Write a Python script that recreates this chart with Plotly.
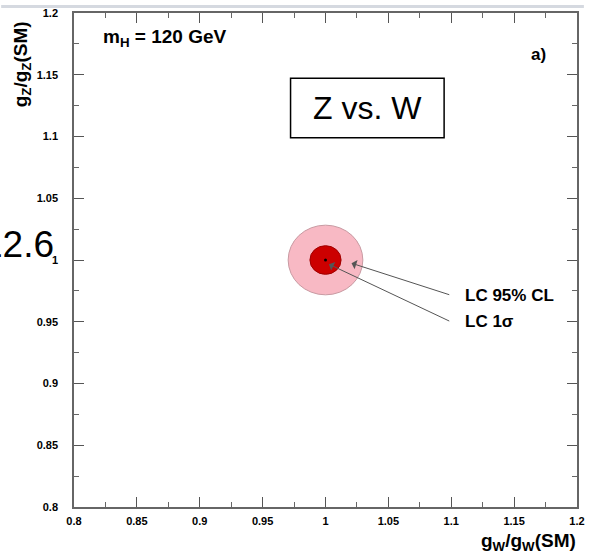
import plotly.graph_objects as go

# ---- data ----
center_x = [1.0]
center_y = [1.0]
radius_95_x = [0.0297]
radius_95_y = [0.0282]
radius_1s_x = [0.0124]
radius_1s_y = [0.0116]
arrow_labels = ["LC 95% CL", "LC 1σ"]
arrow_tip_x = [1.0207, 1.0027]
arrow_tip_y = [0.9974, 0.9966]
arrow_tail_x = [1.0996, 1.0996]
arrow_tail_y = [0.9715, 0.9500]
axis_range = [0.8, 1.2]
major_step = 0.05
minor_step = 0.025

W, H = 592, 558
ML, MR, MT, MB = 74, 7, 8, 51
PW, PH = W - ML - MR, H - MT - MB


def px(xp):
    return (xp - ML) / PW


def py(yp):
    return (H - MB - yp) / PH


fig = go.Figure()

fig.add_trace(go.Scatter(x=center_x, y=center_y, mode="markers",
                         marker=dict(color="black", size=3), showlegend=False,
                         hoverinfo="skip"))

shapes = []
for cx, cy, rx, ry in zip(center_x, center_y, radius_95_x, radius_95_y):
    shapes.append(dict(type="circle", xref="x", yref="y", x0=cx - rx, x1=cx + rx,
                       y0=cy - ry, y1=cy + ry, fillcolor="#F8B9C4",
                       line=dict(color="#C89AA2", width=1), layer="below"))
for cx, cy, rx, ry in zip(center_x, center_y, radius_1s_x, radius_1s_y):
    shapes.append(dict(type="circle", xref="x", yref="y", x0=cx - rx, x1=cx + rx,
                       y0=cy - ry, y1=cy + ry, fillcolor="#CC0000",
                       line=dict(color="#A00000", width=1), layer="below"))

shapes.append(dict(type="rect", xref="paper", yref="paper",
                   x0=px(294), x1=px(450), y0=py(134), y1=py(74),
                   line=dict(color="black", width=1.5), fillcolor="white"))
shapes.append(dict(type="rect", xref="paper", yref="paper",
                   x0=px(0), x1=px(W), y0=py(3), y1=py(0),
                   line=dict(width=0), fillcolor="#D5D9E0", layer="below"))

annotations = []
for lab, tx, ty, ax, ay in zip(arrow_labels, arrow_tip_x, arrow_tip_y,
                               arrow_tail_x, arrow_tail_y):
    annotations.append(dict(x=tx, y=ty, ax=ax, ay=ay, xref="x", yref="y",
                            axref="x", ayref="y", text="", showarrow=True,
                            arrowhead=1, arrowsize=1.6, arrowwidth=1,
                            arrowcolor="#555555"))
    annotations.append(dict(x=ax, y=ay, xref="x", yref="y", text=lab,
                            showarrow=False, xanchor="left", yanchor="middle",
                            xshift=12,
                            font=dict(family="Liberation Sans", size=17,
                                      color="black", weight="bold")))

annotations += [
    dict(xref="paper", yref="paper", x=px(101), y=py(33), xanchor="left",
         yanchor="middle", showarrow=False,
         text="m<sub>H</sub> = 120 GeV",
         font=dict(family="Liberation Sans", size=19, color="black", weight="bold")),
    dict(xref="paper", yref="paper", x=px(546), y=py(50), xanchor="center",
         yanchor="middle", showarrow=False, text="a)",
         font=dict(family="Liberation Sans", size=17, color="black", weight="bold")),
    dict(xref="paper", yref="paper", x=px(372), y=py(104), xanchor="center",
         yanchor="middle", showarrow=False, text="Z vs. W",
         font=dict(family="Liberation Sans", size=32, color="black")),
    dict(xref="paper", yref="paper", x=px(56), y=py(242), xanchor="right",
         yanchor="middle", showarrow=False, text="12.6",
         font=dict(family="Liberation Sans", size=37, color="black")),
    dict(xref="paper", yref="paper", x=px(586), y=py(542), xanchor="right",
         yanchor="middle", showarrow=False,
         text="g<sub>W</sub>/g<sub>W</sub>(SM)",
         font=dict(family="Liberation Sans", size=19, color="black", weight="bold")),
    dict(xref="paper", yref="paper", x=px(22), y=py(60), xanchor="center",
         yanchor="middle", showarrow=False, textangle=-90,
         text="g<sub>Z</sub>/g<sub>Z</sub>(SM)",
         font=dict(family="Liberation Sans", size=19, color="black", weight="bold")),
]

axis_common = dict(showgrid=False, zeroline=False, showline=True,
                   linecolor="#666666", linewidth=1.5, mirror="allticks",
                   range=axis_range, tickmode="linear", tick0=axis_range[0],
                   dtick=major_step,
                   ticks="inside", ticklen=10, tickwidth=1.2, tickcolor="#555555",
                   minor=dict(dtick=minor_step, tick0=axis_range[0],
                              ticks="inside", ticklen=5, showgrid=False,
                              tickcolor="#666666", tickwidth=1.2),
                   tickfont=dict(family="Liberation Sans", size=11,
                                 color="black", weight="bold"))

fig.update_layout(
    width=W, height=H,
    margin=dict(l=ML, r=MR, t=MT, b=MB),
    paper_bgcolor="white", plot_bgcolor="white",
    xaxis=dict(ticklabelstandoff=3, **axis_common),
    yaxis=dict(ticklabelstandoff=12, **axis_common),
    shapes=shapes, annotations=annotations, showlegend=False,
)

fig.write_html("out.html")
